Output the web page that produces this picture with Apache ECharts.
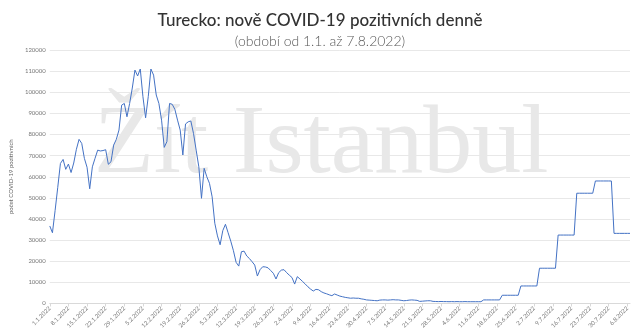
<!DOCTYPE html>
<html lang="cs">
<head>
    <meta charset="UTF-8">
    <title>Turecko COVID-19</title>
    <script src="https://cdn.jsdelivr.net/npm/echarts@6/dist/echarts.min.js"></script>
    <style>
        html, body { margin: 0; padding: 0; background: #fff; }
        #main { width: 640px; height: 332px; }
    </style>
</head>
<body>
    <div id="main"></div>
    <script>
        // titulky
        var titleText = 'Turecko: nově COVID-19 pozitivních denně';
        var subText = '(období od 1.1. až 7.8.2022)';
        var yName = 'počet COVID-19 pozitivních';

        // osa x - dny od 1.1.2022 do 7.8.2022
        var dayCount = 219;
        var days = [];
        for (var i = 0; i < dayCount; i++) {
            var d = new Date(2022, 0, 1 + i);
            days.push(d.getDate() + '.' + (d.getMonth() + 1) + '.' + d.getFullYear());
        }

        // nove pripady - leden
        var jan = [36700, 33500, 44000, 55000, 66300, 68200, 63500, 66000, 62000, 66500,
                   73000, 77700, 75800, 68700, 64500, 54300, 64700, 68700, 72600, 72200,
                   72400, 72800, 65900, 67100, 75000, 77700, 82100, 93900, 94700, 88400,
                   94700];
        // unor
        var feb = [102000, 110500, 107700, 111000, 97900, 87900, 97900, 111000, 108100, 98700,
                   94700, 86800, 73900, 76600, 94700, 94300, 91900, 86800, 82100, 70300,
                   85000, 86000, 86400, 80500, 72600, 64700, 49800, 64000];
        // brezen
        var mar = [60000, 56900, 50500, 38000, 32000, 27800, 34500, 37500, 33500, 29500,
                   25000, 19500, 17700, 24500, 24800, 22500, 21300, 19800, 18200, 13000,
                   16000, 17400, 17300, 16900, 15600, 14300, 11600, 14600, 15800, 16000,
                   14600];
        // duben
        var apr = [13400, 12300, 9200, 12700, 11600, 10400, 9200, 7900, 6800, 5900,
                   6700, 6500, 5600, 5000, 4600, 4100, 3700, 4500, 4000, 3500,
                   3200, 2900, 2700, 2500, 2600, 2500, 2500, 2200, 2000, 1700];
        // kveten
        var may = [1600, 1500, 1400, 1300, 1600, 1700, 1700, 1600, 1700, 1800,
                   1700, 1700, 1500, 1300, 1400, 1600, 1700, 1600, 1500, 1000,
                   1100, 1200, 1300, 1300, 1000, 950, 900, 950, 900, 900,
                   850];
        // cerven
        var jun = [900, 850, 900, 850, 850, 900, 850, 850, 850, 850,
                   850, 850, 1700, 1700, 1700, 1700, 1700, 1700, 1700, 3900,
                   3900, 3900, 3900, 3900, 3900, 3900, 8300, 8300, 8300, 8300];
        // cervenec
        var jul = [8300, 8300, 8300, 16700, 16700, 16700, 16700, 16700, 16700, 16700,
                   32400, 32400, 32400, 32400, 32400, 32400, 32400, 52200, 52200, 52200,
                   52200, 52200, 52200, 52200, 58000, 58000, 58000, 58000, 58000, 58000,
                   58000];
        // srpen
        var aug = [33200, 33200, 33200, 33200, 33200, 33200, 33200];

        var cases = jan.concat(feb, mar, apr, may, jun, jul, aug);

        var chart = echarts.init(document.getElementById('main'));
        chart.setOption({
            animation: false,
            backgroundColor: '#fff',
            title: {
                text: titleText,
                subtext: subText,
                left: 'center',
                top: 7,
                itemGap: 5,
                textStyle: { fontFamily: 'Lato', fontSize: 17, fontWeight: 500, color: '#333' },
                subtextStyle: { fontFamily: 'Lato', fontSize: 14, fontWeight: 300, color: '#595959' }
            },
            graphic: [{
                type: 'text',
                left: 94,
                top: 97,
                z: 0,
                silent: true,
                style: {
                    text: 'Žít Istanbul',
                    font: '98px "Liberation Serif"',
                    fill: '#e8e8e8'
                }
            }],
            grid: { left: 36, right: 10, top: 50, bottom: 28.5 },
            xAxis: {
                type: 'category',
                data: days,
                boundaryGap: false,
                axisLine: { lineStyle: { color: '#d9d9d9' } },
                axisTick: { interval: 6, length: 3, lineStyle: { color: '#d9d9d9' } },
                axisLabel: {
                    interval: 6,
                    rotate: 45,
                    fontSize: 6,
                    margin: 4,
                    color: '#777',
                    fontFamily: 'Lato'
                },
                splitLine: { show: false }
            },
            yAxis: {
                type: 'value',
                min: 0,
                max: 120000,
                interval: 10000,
                name: yName,
                nameLocation: 'middle',
                nameGap: 24,
                nameTextStyle: { fontSize: 6, color: '#666', fontFamily: 'Lato' },
                axisLine: { show: false },
                axisTick: { show: false },
                axisLabel: {
                    fontSize: 6, color: '#777', margin: 4, fontFamily: 'Lato',
                    formatter: function (v) { return String(v); }
                },
                splitLine: { lineStyle: { color: '#e8e8e8' } }
            },
            series: [{
                type: 'line',
                data: cases,
                showSymbol: false,
                z: 3,
                lineStyle: { color: '#4472c4', width: 1 },
                itemStyle: { color: '#4472c4' }
            }]
        });
    </script>
</body>
</html>
